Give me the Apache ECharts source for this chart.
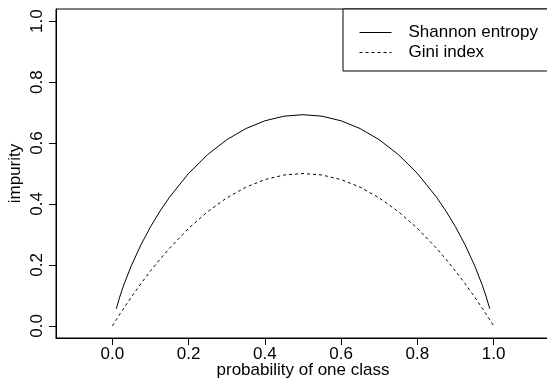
<!DOCTYPE html>
<html>
<head>
<meta charset="utf-8">
<script src="https://cdn.jsdelivr.net/npm/echarts@6/dist/echarts.min.js"></script>
<style>
html,body{margin:0;padding:0;background:#fff;}
#chart{width:547px;height:384px;}
</style>
</head>
<body>
<div id="chart"></div>
<script>
// probability of one class
var probs = [0, 0.01, 0.02, 0.03, 0.05, 0.075, 0.1, 0.125, 0.15, 0.2, 0.25, 0.3, 0.35, 0.4, 0.45, 0.5,
             0.55, 0.6, 0.65, 0.7, 0.75, 0.8, 0.85, 0.875, 0.9, 0.925, 0.95, 0.97, 0.98, 0.99, 1];
// Shannon entropy (undefined at the ends)
var shannon = [null, 0.0560, 0.0980, 0.1347, 0.1985, 0.2664, 0.3251, 0.3768, 0.4227, 0.5004, 0.5623, 0.6109, 0.6474, 0.6730, 0.6881, 0.6931,
               0.6881, 0.6730, 0.6474, 0.6109, 0.5623, 0.5004, 0.4227, 0.3768, 0.3251, 0.2664, 0.1985, 0.1347, 0.0980, 0.0560, null];
// Gini index
var gini = [0, 0.0198, 0.0392, 0.0582, 0.0950, 0.1388, 0.1800, 0.2188, 0.2550, 0.3200, 0.3750, 0.4200, 0.4550, 0.4800, 0.4950, 0.5000,
            0.4950, 0.4800, 0.4550, 0.4200, 0.3750, 0.3200, 0.2550, 0.2188, 0.1800, 0.1388, 0.0950, 0.0582, 0.0392, 0.0198, 0];
var xTicks = [0, 0.2, 0.4, 0.6, 0.8, 1.0];
var yTicks = [0, 0.2, 0.4, 0.6, 0.8, 1.0];
var seriesNames = ['Shannon entropy', 'Gini index'];

function pairs(ys) {
  var out = [];
  for (var i = 0; i < probs.length; i++) {
    if (ys[i] !== null) out.push([probs[i], ys[i]]);
  }
  return out;
}

var FONT = 'Liberation Sans, Arial, Helvetica, sans-serif';
var chart = echarts.init(document.getElementById('chart'), null, {renderer: 'canvas'});
chart.setOption({
  animation: false,
  backgroundColor: '#ffffff',
  grid: {
    show: true, left: 56, top: 9, width: 494, height: 329,
    containLabel: false, outerBoundsMode: 'none',
    borderColor: '#000', borderWidth: 1, backgroundColor: 'transparent'
  },
  legend: {
    orient: 'vertical', left: 343, top: 9,
    padding: [15, 16, 10, 16],
    itemWidth: 32, itemHeight: 10, itemGap: 3,
    borderColor: '#000', borderWidth: 1,
    backgroundColor: '#fff',
    itemStyle: {opacity: 0},
    lineStyle: {width: 1, color: '#000'},
    textStyle: {fontFamily: FONT, fontSize: 17, color: '#000', lineHeight: 17, padding: [0, 0, 0, 12]},
    data: seriesNames
  },
  xAxis: {
    type: 'value', min: -0.148, max: 1.148,
    name: 'probability of one class', nameLocation: 'middle', nameGap: 24, nameMoveOverlap: false,
    nameTextStyle: {fontFamily: FONT, fontSize: 17, color: '#000'},
    axisLine: {show: true, onZero: false, lineStyle: {color: '#000', width: 1}},
    splitLine: {show: false},
    axisTick: {show: true, inside: false, length: 7, customValues: xTicks, lineStyle: {color: '#000', width: 1}},
    axisLabel: {customValues: xTicks, margin: 8, fontFamily: FONT, fontSize: 17, color: '#000',
      formatter: function (v) { return v.toFixed(1); }}
  },
  yAxis: {
    type: 'value', min: -0.04, max: 1.04,
    name: 'impurity', nameLocation: 'middle', nameGap: 32, nameRotate: 90, nameMoveOverlap: false,
    nameTextStyle: {fontFamily: FONT, fontSize: 17, color: '#000'},
    axisLine: {show: true, onZero: false, lineStyle: {color: '#000', width: 1}},
    splitLine: {show: false},
    axisTick: {show: true, inside: false, length: 7, customValues: yTicks, lineStyle: {color: '#000', width: 1}},
    axisLabel: {customValues: yTicks, rotate: 90, margin: 10, fontFamily: FONT, fontSize: 17, color: '#000',
      formatter: function (v) { return v.toFixed(1); }}
  },
  series: [
    {name: seriesNames[0], type: 'line', data: pairs(shannon), symbol: 'none', connectNulls: false,
     lineStyle: {color: '#000', width: 1, type: 'solid'}, itemStyle: {color: '#000'}},
    {name: seriesNames[1], type: 'line', data: pairs(gini), symbol: 'none',
     lineStyle: {color: '#000', width: 1, type: [3, 3]}, itemStyle: {color: '#000'}}
  ]
});
</script>
</body>
</html>
